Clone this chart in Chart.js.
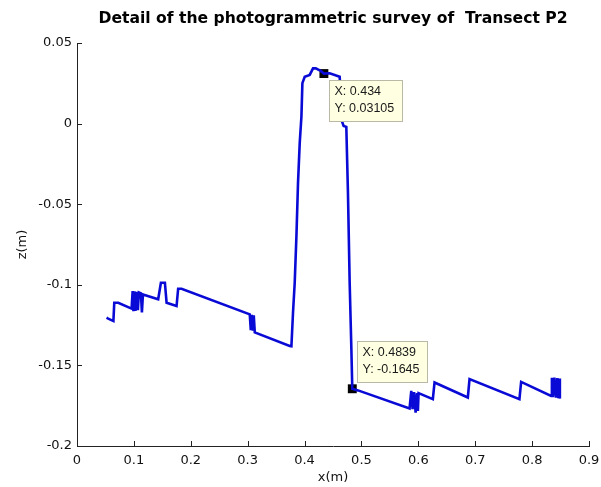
<!DOCTYPE html>
<html>
<head>
<meta charset="utf-8">
<script src="https://cdn.jsdelivr.net/npm/chart.js@4/dist/chart.umd.min.js"></script>
<style>
  html, body { margin: 0; padding: 0; background: #fff; }
  canvas { display: block; }
</style>
</head>
<body>
<canvas id="chart" width="601" height="487"></canvas>
<script>
// Transect P2 profile: horizontal position x (m) and elevation z (m)
const xValues = [
  0.052, 0.054, 0.064, 0.0655, 0.0725, 0.096, 0.0978, 0.0992, 0.101, 0.1027,
  0.1053, 0.107, 0.1088, 0.1124, 0.1141, 0.1159, 0.1427, 0.1475, 0.1545, 0.1575,
  0.175, 0.1778, 0.1838, 0.3037, 0.3055, 0.3072, 0.309, 0.3107, 0.3125, 0.3739,
  0.3769, 0.3797, 0.3827, 0.3857, 0.3885, 0.3915, 0.3945, 0.3962, 0.4003, 0.4091,
  0.4149, 0.4196, 0.4284, 0.434, 0.4442, 0.4617, 0.4643, 0.4661, 0.4687, 0.4734,
  0.4763, 0.4793, 0.4823, 0.4839, 0.494, 0.5846, 0.5876, 0.5899, 0.5925, 0.5952,
  0.5978, 0.5992, 0.6004, 0.6255, 0.6285, 0.687, 0.69, 0.7777, 0.7807, 0.8334,
  0.8348, 0.8365, 0.8392, 0.8418, 0.8444, 0.8462, 0.848, 0.8488
];
const zValues = [
  -0.1204, -0.1208, -0.1225, -0.1111, -0.1111, -0.1148, -0.1039, -0.1163, -0.1041, -0.1162,
  -0.1044, -0.1158, -0.1047, -0.1053, -0.1171, -0.106, -0.109, -0.0987, -0.0987, -0.1111,
  -0.1132, -0.1024, -0.1024, -0.1183, -0.1282, -0.1186, -0.1285, -0.1189, -0.1295, -0.1379,
  -0.1381, -0.1173, -0.0987, -0.0699, -0.0368, -0.0121, 0.0044, 0.0251, 0.0291, 0.0302,
  0.0343, 0.0343, 0.0327, 0.03105, 0.0312, 0.0291, 0.0147, 0.0011, -0.0014, -0.002,
  -0.043, -0.0987, -0.14, -0.1645, -0.1655, -0.1767, -0.1658, -0.1771, -0.1666, -0.1793,
  -0.1672, -0.1783, -0.1672, -0.1709, -0.1606, -0.1699, -0.1585, -0.1709, -0.1602, -0.1689,
  -0.1576, -0.1697, -0.1576, -0.17, -0.1579, -0.1703, -0.1582, -0.1706
];

// Data tips (marked survey points)
const tipX = [0.434, 0.4839];
const tipZ = [0.03105, -0.1645];

// Axis ticks
const xTickValues = [0, 0.1, 0.2, 0.3, 0.4, 0.5, 0.6, 0.7, 0.8, 0.9];
const xTickLabels = ['0', '0.1', '0.2', '0.3', '0.4', '0.5', '0.6', '0.7', '0.8', '0.9'];
const yTickValues = [0.05, 0, -0.05, -0.1, -0.15, -0.2];
const yTickLabels = ['0.05', '0', '-0.05', '-0.1', '-0.15', '-0.2'];

const profile = xValues.map((x, i) => ({ x: x, y: zValues[i] }));
const tips = tipX.map((x, i) => ({ x: x, y: tipZ[i] }));

function labelFor(values, labels, v) {
  const i = values.findIndex(t => Math.abs(t - v) < 1e-9);
  return i >= 0 ? labels[i] : '';
}

// Short tick marks pointing into the plot, on the left and bottom axes
const inwardTicks = {
  id: 'inwardTicks',
  afterDatasetsDraw(chart) {
    const { ctx, chartArea: a, scales } = chart;
    ctx.save();
    ctx.strokeStyle = '#222';
    ctx.lineWidth = 1;
    ctx.beginPath();
    xTickValues.forEach(v => {
      const px = Math.round(scales.x.getPixelForValue(v)) + 0.5;
      ctx.moveTo(px, a.bottom);
      ctx.lineTo(px, a.bottom - 5);
    });
    yTickValues.forEach(v => {
      const py = Math.round(scales.y.getPixelForValue(v)) + 0.5;
      ctx.moveTo(a.left, py);
      ctx.lineTo(a.left + 5, py);
    });
    ctx.stroke();
    ctx.restore();
  }
};

// Data-tip label boxes next to the marked points
const tipBoxes = {
  id: 'tipBoxes',
  afterDatasetsDraw(chart) {
    const { ctx, scales } = chart;
    const placement = ['below', 'above'];
    ctx.save();
    ctx.font = '12.5px "Liberation Sans", Arial, sans-serif';
    ctx.textBaseline = 'middle';
    tipX.forEach((xv, i) => {
      const px = scales.x.getPixelForValue(xv);
      const py = scales.y.getPixelForValue(tipZ[i]);
      const lines = ['X: ' + xv, 'Y: ' + tipZ[i]];
      const w = Math.ceil(Math.max(...lines.map(s => ctx.measureText(s).width))) + 13;
      const h = 41;
      const left = Math.round(px + 5) + 0.5;
      const top = placement[i] === 'below' ? Math.round(py + 6) + 0.5 : Math.round(py - 7 - h) + 0.5;
      ctx.fillStyle = '#ffffe1';
      ctx.fillRect(left, top, w, h);
      ctx.strokeStyle = '#b9b9a6';
      ctx.lineWidth = 1;
      ctx.strokeRect(left, top, w, h);
      ctx.fillStyle = '#1a1a1a';
      ctx.fillText(lines[0], left + 5, top + 11.5);
      ctx.fillText(lines[1], left + 5, top + 28.5);
    });
    ctx.restore();
  }
};

new Chart(document.getElementById('chart'), {
  type: 'scatter',
  data: {
    datasets: [
      {
        data: profile,
        showLine: true,
        borderColor: 'rgb(10,10,215)',
        backgroundColor: 'rgb(10,10,215)',
        borderWidth: 2.6,
        pointRadius: 0,
        tension: 0,
        clip: false
      },
      {
        data: tips,
        showLine: false,
        pointStyle: 'rect',
        pointRadius: 6.3,
        pointBackgroundColor: '#000',
        pointBorderColor: '#000',
        pointBorderWidth: 0,
        clip: false
      }
    ]
  },
  options: {
    responsive: false,
    animation: false,
    devicePixelRatio: 1,
    layout: { padding: { left: 0, right: 12, top: 0, bottom: 0 } },
    plugins: {
      legend: { display: false },
      tooltip: { enabled: false },
      title: {
        display: true,
        fullSize: false,
        text: 'Detail of the photogrammetric survey of  Transect P2',
        color: '#000',
        font: { family: 'DejaVu Sans', size: 15.6, weight: 'bold', lineHeight: 1.2 },
        padding: { top: 10, bottom: 14.3 }
      }
    },
    scales: {
      x: {
        type: 'linear',
        min: 0,
        max: 0.9,
        afterFit(scale) {
          scale.height = 41;
          scale.paddingLeft = 0;
          scale.paddingRight = 0;
        },
        afterBuildTicks(scale) { scale.ticks = xTickValues.map(v => ({ value: v })); },
        grid: { display: false, drawTicks: false, tickLength: 0 },
        border: { display: true, color: '#222', width: 1 },
        ticks: {
          padding: 7,
          maxRotation: 0,
          color: '#111',
          font: { family: 'DejaVu Sans', size: 13 },
          callback: v => labelFor(xTickValues, xTickLabels, v)
        },
        title: {
          display: true,
          text: 'x(m)',
          color: '#111',
          font: { family: 'DejaVu Sans', size: 13, lineHeight: 1.2 },
          padding: { top: 0, bottom: 2 }
        }
      },
      y: {
        type: 'linear',
        min: -0.2,
        max: 0.05,
        afterFit(scale) { scale.width = 77; },
        afterBuildTicks(scale) { scale.ticks = yTickValues.slice().reverse().map(v => ({ value: v })); },
        grid: { display: false, drawTicks: false, tickLength: 0 },
        border: { display: true, color: '#222', width: 1 },
        ticks: {
          padding: 5,
          color: '#111',
          font: { family: 'DejaVu Sans', size: 13 },
          callback: v => labelFor(yTickValues, yTickLabels, v)
        },
        title: {
          display: true,
          text: 'z(m)',
          color: '#111',
          font: { family: 'DejaVu Sans', size: 13, lineHeight: 1.2 },
          padding: { top: 15, bottom: 0 }
        }
      }
    }
  },
  plugins: [inwardTicks, tipBoxes]
});
</script>
</body>
</html>
